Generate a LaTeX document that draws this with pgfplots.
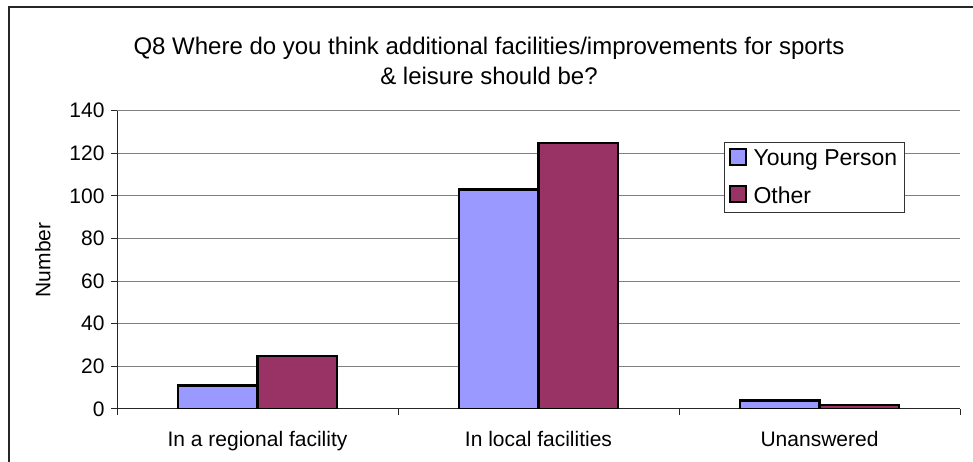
\documentclass[border=0pt]{standalone}
\usepackage{fontspec}
\setmainfont{Liberation Sans}
\usepackage{pgfplots}
\pgfplotsset{compat=1.18}
\definecolor{young}{HTML}{9999FF}
\definecolor{other}{HTML}{993366}
\definecolor{gridgray}{HTML}{808080}
\begin{document}
\begin{tikzpicture}
\useasboundingbox (0pt,0pt) rectangle (973pt,462pt);
\draw[line width=1.5pt, black!85] (9pt,-2pt) -- (9pt,455pt) -- (975pt,455pt);
\node[anchor=base, font=\fontsize{24}{28}\selectfont] at (489pt,407pt) {Q8 Where do you think additional facilities/improvements for sports};
\node[anchor=base, font=\fontsize{24}{28}\selectfont] at (489pt,377pt) {\& leisure should be?};
\begin{axis}[
  at={(117pt,53pt)}, anchor=south west,
  scale only axis, width=843pt, height=298.3pt,
  xmin=-0.5, xmax=2.5, ymin=0, ymax=140,
  ytick={0,20,...,140},
  xtick={-0.5,0.5,1.5,2.5},
  x tick label as interval,
  xticklabels={In a regional facility,In local facilities,Unanswered},
  axis lines*=left,
  axis line style={line width=1pt, black!85},
  tick align=outside,
  major tick length=6pt,
  tick style={line width=1pt, black!85},
  ymajorgrids,
  grid style={line width=1pt, gridgray},
  ybar=0pt, bar width=79.6pt,
  /pgf/number format/assume math mode=true,
  ticklabel style={font=\fontsize{21}{25}\selectfont},
  yticklabel style={xshift=-3pt},
  xticklabel style={yshift=-13pt},
  ylabel={Number},
  every axis y label/.style={at={(axis description cs:-0.088,0.5)}, rotate=90, anchor=center, font=\fontsize{21}{25}\selectfont},
  legend style={at={(0.720,0.895)}, anchor=north west, draw=black!80, line width=1pt, fill=white,
    font=\fontsize{23}{27}\selectfont, inner xsep=5pt, inner ysep=5pt, row sep=16pt, cells={anchor=west}},
  legend image code/.code={\draw[#1, draw=black, line width=2pt] (0pt,-6pt) rectangle (16pt,10pt); \path (20pt,0pt);},
]
\addplot[fill=young, draw=black, line width=2.2pt] coordinates {(0,11) (1,103) (2,4)};
\addplot[fill=other, draw=black, line width=2.2pt] coordinates {(0,25) (1,125) (2,2)};
\legend{Young Person, Other}
\end{axis}
\end{tikzpicture}
\end{document}
